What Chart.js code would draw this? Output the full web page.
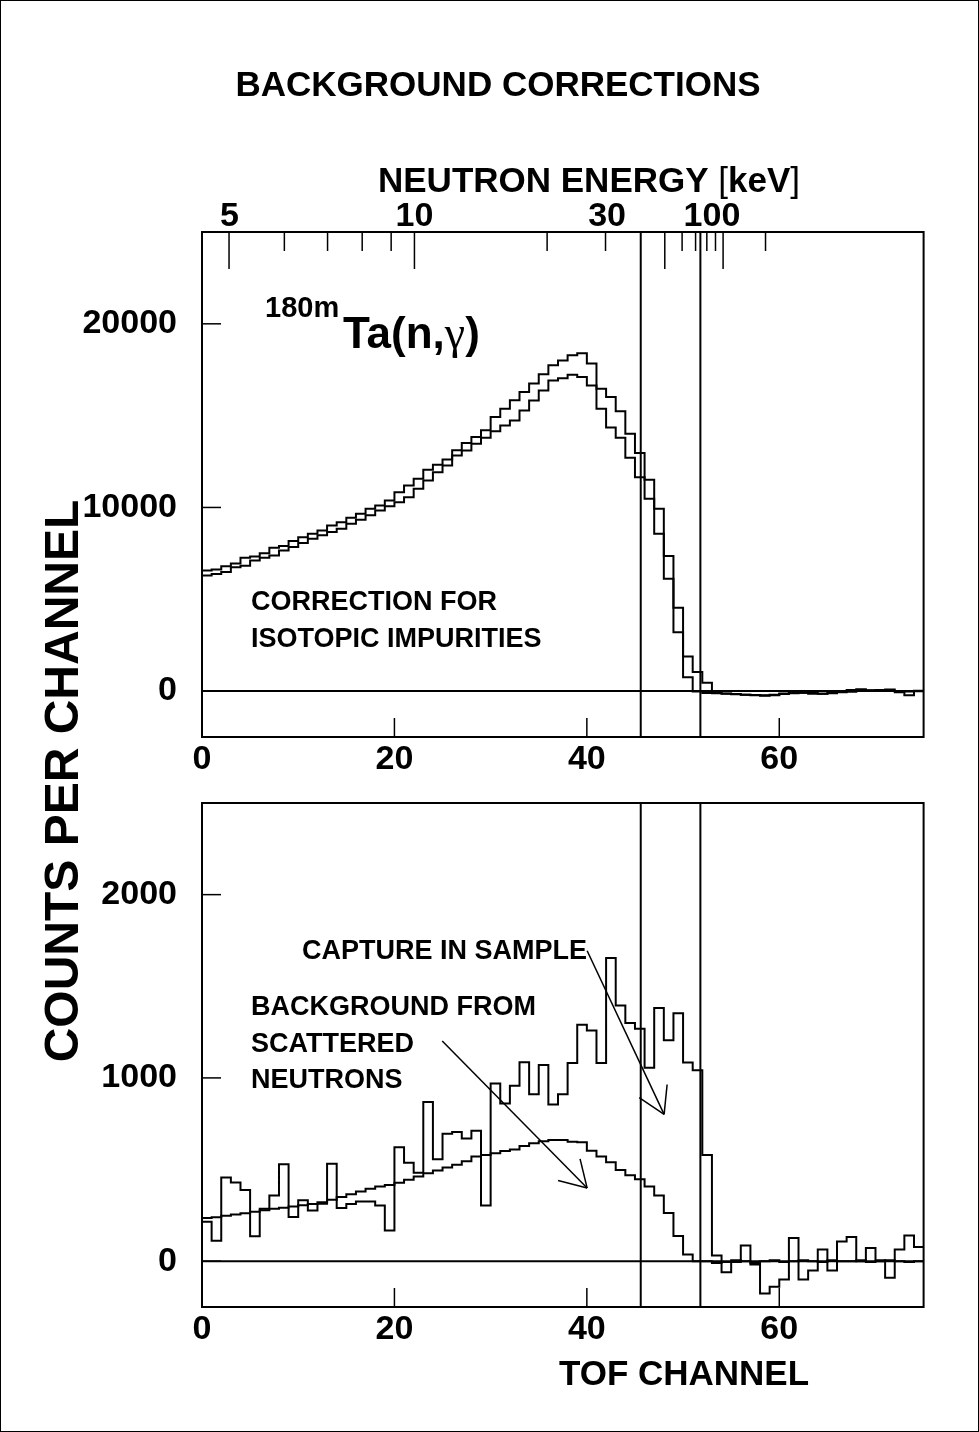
<!DOCTYPE html>
<html>
<head>
<meta charset="utf-8">
<script src="https://cdn.jsdelivr.net/npm/chart.js@4.4.1/dist/chart.umd.min.js"></script>
<style>
  body { margin: 0; background: #fff; }
  #page { position: relative; width: 979px; height: 1432px; overflow: hidden; background: #fff; }
  #frame { position: absolute; left: 0; top: 0; width: 979px; height: 1432px; border: 1px solid #000; box-sizing: border-box; pointer-events: none; }
  #topChart { position: absolute; left: 0; top: 0; }
  #bottomChart { position: absolute; left: 0; top: 780px; }
  #yTitle { position: absolute; left: 62px; top: 781px; transform: translate(-50%, -50%) rotate(-90deg);
            font: bold 48px "Liberation Sans", Arial, sans-serif; white-space: nowrap; line-height: 1; color: #000; }
</style>
</head>
<body>
<div id="page">
  <canvas id="topChart" width="979" height="780"></canvas>
  <canvas id="bottomChart" width="979" height="652"></canvas>
  <div id="yTitle">COUNTS PER CHANNEL</div>
  <div id="frame"></div>
</div>
<script>
const FONT = '"Liberation Sans", Arial, Helvetica, sans-serif';

// TOF channel axis (shared by both panels)
const channelTicks = [0, 20, 40, 60];
const channelMax = 75;

// neutron energy axis on top, positions given in TOF channels
const energyLabels = ['5', '10', '30', '100'];
const energyLabelChannels = [2.86, 22.08, 42.1, 53.0];
const energyMajorChannels = [2.81, 22.08, 48.1, 54.16];
const energyMinorChannels = [8.56, 13.05, 16.65, 19.66, 35.87, 41.94, 49.9, 51.3, 52.47, 53.37, 58.57];

// limits of the evaluated TOF window
const windowChannels = [45.6, 51.8];

const topYTicks = [0, 10000, 20000];
const bottomYTicks = [0, 1000, 2000];

// top panel: sample spectrum, counts per channel 0..74
const taSampleRaw = [
  6570, 6620, 6800, 6950, 7260, 7330, 7510, 7800, 7900, 8170,
  8380, 8570, 8750, 9020, 9200, 9440, 9660, 9930, 10110, 10380,
  10830, 11200, 11560, 12050, 12330, 12610, 13110, 13510, 13840, 14200,
  14930, 15380, 15840, 16290, 16750, 17250, 17750, 18000, 18290, 18400,
  17840, 15370, 14350, 13790, 12700, 11650, 10470, 8570, 6120, 3210,
  760, -20, -100, -120, -150, -170, -200, -210, -230, -230,
  -160, -110, -90, -60, -150, -120, -60, -40, 100, 40,
  30, 90, 0, -230, -10
];
const taSampleCorrected = [
  6300, 6380, 6480, 6750, 6830, 7115, 7260, 7390, 7660, 7840,
  8060, 8300, 8480, 8660, 8840, 9110, 9330, 9570, 9840, 10060,
  10290, 10560, 11015, 11470, 11920, 12285, 12830, 13100, 13465, 13800,
  14150, 14460, 14740, 15280, 15820, 16370, 16910, 17040, 17220, 17100,
  16640, 16460, 16010, 15240, 14010, 12960, 11510, 9930, 7350, 4540,
  1890, 1040, 460, -50, -130, -160, -200, -220, -250, -200,
  -130, -120, -90, -150, -150, -70, -40, 60, 50, 30,
  60, 20, -60, -20, 20
];

// bottom panel: capture in sample and background from scattered neutrons
const captureInSample = [
  215, 112, 457, 429, 389, 136, 286, 359, 529, 241,
  332, 277, 314, 531, 290, 312, 326, 326, 304, 168,
  622, 537, 483, 868, 556, 695, 705, 670, 712, 304,
  969, 861, 957, 1085, 911, 1071, 855, 911, 1082, 1290,
  1259, 1082, 1654, 1395, 1299, 1268, 1056, 1382, 1205, 1353,
  1084, 1042, 580, 31, -60, -5, 85, -18, -176, -140,
  -100, 127, -100, -51, 64, -51, 108, 132, 0, 72,
  5, -91, 64, 140, 78
];
const scatteredBackground = [
  236, 240, 248, 255, 262, 270, 278, 286, 292, 298,
  305, 312, 322, 335, 350, 365, 380, 395, 408, 416,
  428, 445, 462, 480, 495, 511, 526, 545, 571, 580,
  589, 601, 610, 629, 643, 655, 661, 661, 652, 649,
  603, 571, 540, 498, 469, 447, 408, 358, 263, 138,
  36, 0, 0, -10, -5, 5, 0, -10, 0, 5,
  -5, 0, 5, 0, -5, 5, 0, 0, 5, -5,
  0, 5, 0, -5, 0
];

// arrows of the bottom panel, [channel, counts] from -> to
const captureArrow = [[40.03, 1694], [48.03, 801]];
const backgroundArrow = [[24.97, 1201], [40.03, 399]];

function histogram(counts) {
  const pts = counts.map((c, i) => ({ x: i, y: c }));
  pts.push({ x: counts.length, y: counts[counts.length - 1] });
  return pts;
}

function stepSet(counts) {
  return {
    data: histogram(counts),
    stepped: true,
    borderColor: '#000',
    borderWidth: 2,
    pointRadius: 0,
    fill: false
  };
}

function line(ctx, x1, y1, x2, y2) {
  ctx.beginPath();
  ctx.moveTo(x1, y1);
  ctx.lineTo(x2, y2);
  ctx.stroke();
}

function label(ctx, str, x, y, size, align) {
  ctx.font = 'bold ' + size + 'px ' + FONT;
  ctx.textAlign = align || 'left';
  ctx.textBaseline = 'alphabetic';
  ctx.fillStyle = '#000';
  ctx.fillText(str, x, y);
}

// text made of pieces, some bold and some plain, centred on x
function mixedLabel(ctx, parts, cx, y, size) {
  const fonts = parts.map(p => (p[1] ? 'bold ' : '') + size + 'px ' + FONT);
  let total = 0;
  parts.forEach((p, i) => { ctx.font = fonts[i]; total += ctx.measureText(p[0]).width; });
  let x = cx - total / 2;
  ctx.textAlign = 'left';
  ctx.textBaseline = 'alphabetic';
  ctx.fillStyle = '#000';
  parts.forEach((p, i) => {
    ctx.font = fonts[i];
    ctx.fillText(p[0], x, y);
    x += ctx.measureText(p[0]).width;
  });
}

function arrow(ctx, xs, ys, from, to) {
  const x0 = xs.getPixelForValue(from[0]), y0 = ys.getPixelForValue(from[1]);
  const x1 = xs.getPixelForValue(to[0]), y1 = ys.getPixelForValue(to[1]);
  line(ctx, x0, y0, x1, y1);
  const ang = Math.atan2(y0 - y1, x0 - x1);
  [-0.54, 0.54].forEach(d => {
    line(ctx, x1, y1, x1 + 30 * Math.cos(ang + d), y1 + 30 * Math.sin(ang + d));
  });
}

// frame, inward ticks, zero line, window limits, plus panel texts
function panelDecor(opts) {
  return {
    id: 'panelDecor',
    afterDatasetsDraw(chart) {
      const { ctx, chartArea: a, scales } = chart;
      const xs = scales.x, ys = scales.y;
      ctx.save();
      ctx.strokeStyle = '#000';
      ctx.lineWidth = 2;
      const y0 = ys.getPixelForValue(0);
      line(ctx, a.left, y0, a.right, y0);
      windowChannels.forEach(c => {
        const px = xs.getPixelForValue(c);
        line(ctx, px, a.top, px, a.bottom);
      });
      ctx.lineWidth = 1.5;
      opts.yTicks.forEach(v => {
        const py = ys.getPixelForValue(v);
        line(ctx, a.left, py, a.left + 19, py);
      });
      channelTicks.forEach(v => {
        const px = xs.getPixelForValue(v);
        line(ctx, px, a.bottom, px, a.bottom - 19);
      });
      if (opts.energy) {
        energyMajorChannels.forEach(c => {
          const px = xs.getPixelForValue(c);
          line(ctx, px, a.top, px, a.top + 37);
        });
        energyMinorChannels.forEach(c => {
          const px = xs.getPixelForValue(c);
          line(ctx, px, a.top, px, a.top + 19);
        });
      }
      ctx.lineWidth = 2;
      ctx.strokeRect(a.left, a.top, a.right - a.left, a.bottom - a.top);
      opts.draw(ctx, chart);
      ctx.restore();
    }
  };
}

function tickFont() {
  return { family: FONT, size: 34, weight: 'bold', lineHeight: 1 };
}

function xScale(height) {
  return {
    type: 'linear', position: 'bottom', min: 0, max: channelMax,
    afterBuildTicks: s => { s.ticks = channelTicks.map(v => ({ value: v })); },
    afterFit: s => { s.height = height; },
    grid: { display: false, drawTicks: false },
    border: { display: false },
    ticks: { font: tickFont(), color: '#000', padding: 6, maxRotation: 0, autoSkip: false, callback: v => String(v) }
  };
}

function yScale(min, max, ticks) {
  return {
    type: 'linear', min: min, max: max,
    afterBuildTicks: s => { s.ticks = ticks.map(v => ({ value: v })); },
    afterFit: s => { s.width = 202; s.paddingTop = 0; s.paddingBottom = 0; },
    grid: { display: false, drawTicks: false },
    border: { display: false },
    ticks: { font: tickFont(), color: '#000', padding: 25, callback: v => String(v) }
  };
}

const common = {
  responsive: false,
  animation: false,
  events: [],
  plugins: { legend: { display: false }, tooltip: { enabled: false } }
};

new Chart(document.getElementById('topChart'), {
  type: 'line',
  data: { datasets: [stepSet(taSampleRaw), stepSet(taSampleCorrected)] },
  options: {
    ...common,
    layout: { padding: { left: 0, right: 55.4, top: 0, bottom: 0 } },
    scales: {
      x: xScale(43),
      energy: {
        type: 'linear', axis: 'x', position: 'top', min: 0, max: channelMax,
        afterBuildTicks: s => { s.ticks = energyLabelChannels.map(v => ({ value: v })); },
        afterFit: s => { s.height = 232; },
        grid: { display: false, drawTicks: false },
        border: { display: false },
        ticks: { font: tickFont(), color: '#000', padding: -2, maxRotation: 0, autoSkip: false,
                 callback: (v, i) => energyLabels[i] }
      },
      y: yScale(-2500, 25000, topYTicks)
    }
  },
  plugins: [panelDecor({
    yTicks: topYTicks,
    energy: true,
    draw(ctx) {
      label(ctx, 'BACKGROUND CORRECTIONS', 498, 96, 35, 'center');
      mixedLabel(ctx, [['NEUTRON ENERGY ', true], ['[', false], ['keV', true], [']', false]], 589, 192, 35);
      label(ctx, '180m', 265, 317, 29);
      let x = 343;
      label(ctx, 'Ta(n,', x, 348, 44);
      x += ctx.measureText('Ta(n,').width;
      ctx.font = '46px "Liberation Serif", "DejaVu Serif", serif';
      ctx.fillText('\u03b3', x, 348);
      x += ctx.measureText('\u03b3').width;
      label(ctx, ')', x, 348, 44);
      label(ctx, 'CORRECTION FOR', 251, 610, 27);
      label(ctx, 'ISOTOPIC IMPURITIES', 251, 647, 27);
    }
  })]
});

new Chart(document.getElementById('bottomChart'), {
  type: 'line',
  data: { datasets: [stepSet(captureInSample), stepSet(scatteredBackground)] },
  options: {
    ...common,
    layout: { padding: { left: 0, right: 55.4, top: 23, bottom: 0 } },
    scales: {
      x: xScale(125),
      y: yScale(-250, 2500, bottomYTicks)
    }
  },
  plugins: [panelDecor({
    yTicks: bottomYTicks,
    energy: false,
    draw(ctx, chart) {
      const xs = chart.scales.x, ys = chart.scales.y;
      label(ctx, 'CAPTURE IN SAMPLE', 302, 179, 27);
      label(ctx, 'BACKGROUND FROM', 251, 235, 27);
      label(ctx, 'SCATTERED', 251, 272, 27);
      label(ctx, 'NEUTRONS', 251, 308, 27);
      ctx.lineWidth = 1.5;
      arrow(ctx, xs, ys, captureArrow[0], captureArrow[1]);
      arrow(ctx, xs, ys, backgroundArrow[0], backgroundArrow[1]);
      label(ctx, 'TOF CHANNEL', 684, 605, 35, 'center');
    }
  })]
});
</script>
</body>
</html>
